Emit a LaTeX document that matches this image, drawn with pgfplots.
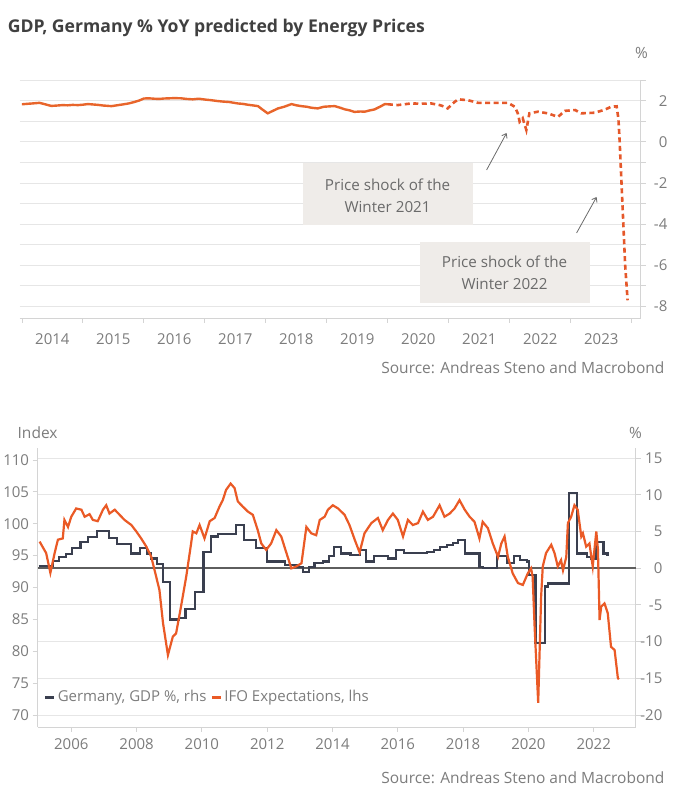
\documentclass[border=0pt]{standalone}
\usepackage{fontspec}
\setmainfont{Open Sans}
\usepackage{pgfplots}
\pgfplotsset{compat=1.18}
\usetikzlibrary{arrows.meta}
\definecolor{titlegray}{HTML}{404040}
\definecolor{labelgray}{HTML}{7C7C7C}
\definecolor{gridgray}{HTML}{E6E6E6}
\definecolor{axisgray}{HTML}{D4D4D4}
\definecolor{zerogray}{HTML}{5E5E5E}
\definecolor{orangetop}{HTML}{E8652B}
\definecolor{orangedash}{HTML}{E5582A}
\definecolor{ifoorange}{HTML}{EA5A26}
\definecolor{gdpdark}{HTML}{3A3F4F}
\definecolor{boxfill}{HTML}{EFECE9}
\definecolor{boxtext}{HTML}{6A6A6A}
\begin{document}
\begin{tikzpicture}
\begin{scope}[x=1pt,y=1pt]
\path[use as bounding box] (0,0) rectangle (684,800);
\node[anchor=west, inner sep=0, font=\fontsize{17.6}{20}\selectfont\bfseries, text=titlegray] at (3,772) {GDP, Germany \% YoY predicted by Energy Prices};
\end{scope}

% ---------------- top chart ----------------
\begin{axis}[
  at={(15pt,482pt)}, anchor=south west, width=621pt, height=238pt, scale only axis,
  xmin=2013.962, xmax=2024.143, ymin=-8.56, ymax=3,
  axis x line*=bottom, axis y line*=right,
  axis line style={draw=axisgray, line width=0.8pt},
  xtick={2014,...,2024}, x tick label as interval,
  xticklabels={2014,2015,2016,2017,2018,2019,2020,2021,2022,2023},
  ytick={-8,-6,...,2}, minor ytick={-7,-5,...,3},
  grid=both, major grid style={draw=gridgray, line width=0.8pt}, minor grid style={draw=gridgray, line width=0.8pt},
  xmajorgrids=false, xminorgrids=false,
  tick align=outside, major tick length=5pt, minor tick length=5pt,
  tick style={draw=axisgray, line width=0.8pt},
  /pgf/number format/assume math mode=true,
  /pgf/number format/1000 sep={},
  ticklabel style={font=\fontsize{15}{16}\selectfont, text=labelgray},
  xticklabel style={yshift=-7pt},
  yticklabel style={anchor=east, inner sep=0pt, xshift=22pt},
  clip=false,
]
\addplot[orangetop, line width=2.4pt] coordinates {
(2014.00,1.82)(2014.08,1.84)(2014.17,1.86)(2014.29,1.89)(2014.38,1.82)(2014.48,1.74)(2014.58,1.76)(2014.67,1.78)
(2014.75,1.77)(2014.83,1.79)(2014.92,1.78)(2015.00,1.80)(2015.08,1.83)(2015.17,1.81)(2015.25,1.79)(2015.33,1.76)
(2015.42,1.74)(2015.47,1.73)(2015.58,1.78)(2015.67,1.82)(2015.75,1.86)(2015.83,1.92)(2015.92,2.00)(2016.00,2.10)
(2016.08,2.11)(2016.17,2.09)(2016.25,2.08)(2016.33,2.10)(2016.42,2.11)(2016.50,2.12)(2016.61,2.11)(2016.70,2.08)
(2016.80,2.06)(2016.90,2.09)(2017.00,2.05)(2017.10,2.02)(2017.20,1.98)(2017.30,1.95)(2017.40,1.93)(2017.54,1.86)
(2017.62,1.84)(2017.70,1.80)(2017.80,1.76)(2017.87,1.73)(2017.95,1.55)(2018.03,1.38)(2018.10,1.48)(2018.20,1.62)
(2018.30,1.70)(2018.42,1.83)(2018.50,1.77)(2018.58,1.73)(2018.67,1.70)(2018.75,1.65)(2018.85,1.62)(2018.95,1.70)
(2019.05,1.72)(2019.13,1.73)(2019.22,1.65)(2019.30,1.57)(2019.38,1.52)(2019.45,1.45)(2019.55,1.47)(2019.62,1.46)
(2019.70,1.52)(2019.78,1.57)(2019.87,1.70)(2019.95,1.83)(2020.00,1.82)
};
\addplot[orangedash, line width=2.6pt, dash pattern=on 5pt off 3.5pt] coordinates {
(2020.00,1.82)(2020.16,1.78)(2020.38,1.86)(2020.55,1.85)(2020.71,1.86)(2020.85,1.78)(2020.93,1.70)(2020.98,1.62)
(2021.08,1.90)(2021.15,2.06)(2021.31,2.02)(2021.48,1.89)(2021.70,1.89)(2021.97,1.89)(2022.08,1.70)(2022.13,1.38)
(2022.16,0.97)(2022.21,1.14)(2022.27,0.57)(2022.32,1.38)(2022.46,1.46)(2022.62,1.38)(2022.79,1.21)(2022.90,1.50)
(2023.07,1.54)(2023.17,1.38)(2023.39,1.41)(2023.55,1.55)(2023.66,1.70)(2023.75,1.72)(2023.78,1.10)(2023.80,0.00)
(2023.83,-2.00)(2023.86,-4.00)(2023.89,-6.00)(2023.93,-7.70)
};
\end{axis}

% ---------------- bottom chart ----------------
\begin{axis}[
  at={(33pt,73pt)}, anchor=south west, width=598pt, height=279pt, scale only axis,
  xmin=2004.968, xmax=2023.283, ymin=-21.63, ymax=16.36,
  axis x line*=bottom, axis y line*=right,
  axis line style={draw=axisgray, line width=0.8pt},
  xtick={2006,2008,...,2022},
  ytick={-20,-15,...,15},
  ymajorgrids, major grid style={draw=gridgray, line width=0.8pt},
  extra y ticks={0}, extra y tick labels={},
  extra y tick style={grid=major, major grid style={draw=zerogray, line width=1.3pt}, major tick length=0pt},
  tick align=outside, major tick length=5pt,
  tick style={draw=axisgray, line width=0.8pt},
  /pgf/number format/assume math mode=true,
  /pgf/number format/1000 sep={},
  ticklabel style={font=\fontsize{15}{16}\selectfont, text=labelgray},
  xticklabel style={yshift=-3pt},
  yticklabel style={anchor=east, inner sep=0pt, xshift=22pt},
  clip=false,
]
\addplot[gdpdark, line width=2.2pt, const plot] coordinates {
(2005.00,0.3)(2005.45,1.0)(2005.62,1.5)(2005.85,1.9)(2006.02,2.7)(2006.28,3.6)(2006.50,4.2)(2006.78,5.1)
(2007.15,4.1)(2007.40,3.3)(2007.82,2.0)(2008.10,2.7)(2008.32,2.0)(2008.45,1.3)(2008.62,0.6)(2008.80,-1.9)
(2009.03,-7.0)(2009.30,-6.8)(2009.50,-5.6)(2009.80,-3.2)(2010.05,2.2)(2010.27,4.3)(2010.50,4.6)(2011.05,5.9)
(2011.28,3.8)(2011.65,2.7)(2012.00,0.9)(2012.55,0.4)(2012.90,0.2)(2013.10,-0.5)(2013.28,0.2)(2013.45,0.7)
(2013.70,0.9)(2013.90,1.6)(2014.05,2.9)(2014.25,2.0)(2014.55,1.8)(2014.85,2.5)(2015.02,0.9)(2015.28,1.6)
(2015.70,1.3)(2015.95,2.5)(2016.20,2.1)(2016.90,2.2)(2017.10,2.5)(2017.30,2.9)(2017.50,3.2)(2017.70,3.4)
(2017.85,3.8)(2018.05,2.0)(2018.50,0.2)(2018.62,0.0)(2019.05,1.6)(2019.35,0.7)(2019.55,1.6)(2019.75,1.1)
(2019.95,0.9)(2020.03,-0.9)(2020.22,-10.2)(2020.50,-2.5)(2020.60,-2.1)(2021.24,10.2)(2021.48,2.0)(2021.80,1.5)
(2021.92,1.3)(2022.08,3.6)(2022.30,2.0)(2022.42,1.8)(2022.47,1.8)
};
\end{axis}

\begin{axis}[
  at={(33pt,73pt)}, anchor=south west, width=598pt, height=279pt, scale only axis,
  xmin=2004.968, xmax=2023.283, ymin=68.12, ymax=111.88,
  axis x line=none, axis y line*=left,
  axis line style={draw=axisgray, line width=0.8pt},
  ytick={70,75,...,110},
  tick align=outside, major tick length=5pt,
  tick style={draw=axisgray, line width=0.8pt},
  /pgf/number format/assume math mode=true,
  ticklabel style={font=\fontsize{15}{16}\selectfont, text=labelgray},
  legend style={at={(axis description cs:0.005,0.1075)}, anchor=west, draw=none, fill=none,
    font=\fontsize{15}{16}\selectfont, text=labelgray, legend columns=2,
    /tikz/every even column/.append style={column sep=2pt}},
  legend image code/.code={\draw[#1, line width=3pt] (0pt,0pt) -- (9pt,0pt);},
  clip=false,
]
\addlegendimage{gdpdark}
\addlegendentry{Germany, GDP \%, rhs}
\addplot[ifoorange, line width=2.2pt] coordinates {
(2005.03,97.2)(2005.23,95.4)(2005.36,92.3)(2005.49,95.4)(2005.59,97.5)(2005.74,97.7)(2005.79,100.6)(2005.90,99.5)
(2006.00,101.1)(2006.15,102.4)(2006.31,102.2)(2006.41,101.1)(2006.56,101.5)(2006.66,100.6)(2006.81,100.4)(2006.97,102.2)
(2007.07,102.9)(2007.17,101.6)(2007.33,102.2)(2007.48,101.4)(2007.63,100.6)(2007.84,99.8)(2007.99,98.8)(2008.14,97.7)
(2008.30,96.4)(2008.45,94.8)(2008.60,91.7)(2008.70,89.6)(2008.81,84.4)(2008.96,79.4)(2009.11,82.3)(2009.21,82.8)
(2009.36,87.0)(2009.52,91.7)(2009.67,96.9)(2009.72,98.8)(2009.83,98.5)(2009.93,99.8)(2010.08,97.7)(2010.24,100.4)
(2010.39,100.9)(2010.54,102.7)(2010.64,103.7)(2010.74,105.3)(2010.88,106.3)(2011.00,105.6)(2011.10,103.5)(2011.25,102.7)
(2011.41,101.9)(2011.56,101.4)(2011.71,99.0)(2011.82,96.9)(2011.97,95.9)(2012.12,96.9)(2012.28,99.0)(2012.43,98.0)
(2012.59,95.4)(2012.74,93.0)(2012.89,93.3)(2013.05,93.8)(2013.20,99.5)(2013.35,98.5)(2013.50,98.2)(2013.61,100.6)
(2013.76,101.1)(2013.86,102.2)(2014.01,102.9)(2014.17,102.4)(2014.37,101.4)(2014.52,99.8)(2014.68,97.5)(2014.83,95.5)
(2014.98,98.5)(2015.19,100.1)(2015.39,100.9)(2015.54,99.0)(2015.70,100.6)(2015.85,101.6)(2016.00,100.6)(2016.16,98.0)
(2016.31,100.6)(2016.46,99.8)(2016.62,100.1)(2016.77,101.9)(2016.92,100.6)(2017.08,101.1)(2017.28,102.9)(2017.43,101.1)
(2017.59,101.6)(2017.74,102.4)(2017.89,103.7)(2018.05,102.2)(2018.20,101.1)(2018.35,100.3)(2018.50,97.7)(2018.60,100.3)
(2018.76,99.3)(2018.91,96.9)(2019.07,94.8)(2019.17,96.9)(2019.27,98.0)(2019.37,94.8)(2019.52,92.2)(2019.68,90.7)
(2019.83,90.4)(2019.98,92.2)(2020.08,93.0)(2020.13,91.7)(2020.19,83.9)(2020.30,71.9)(2020.39,88.6)(2020.44,93.3)
(2020.54,95.4)(2020.70,96.7)(2020.80,95.4)(2020.90,93.3)(2021.00,94.3)(2021.06,92.7)(2021.16,94.8)(2021.21,100.1)
(2021.31,101.1)(2021.41,102.9)(2021.51,102.2)(2021.62,98.0)(2021.67,98.5)(2021.77,96.4)(2021.87,96.9)(2021.97,93.3)
(2022.08,98.8)(2022.13,95.9)(2022.18,84.9)(2022.23,87.0)(2022.33,87.5)(2022.43,86.0)(2022.53,80.7)(2022.64,80.2)
(2022.74,75.8)(2022.77,75.6)
};
\addlegendentry{IFO Expectations, lhs}
\end{axis}

\begin{scope}[x=1pt,y=1pt]
\node[anchor=center, inner sep=0, font=\fontsize{15.5}{16}\selectfont, text=labelgray] at (637,747) {\%};
\fill[boxfill] (298,637) rectangle (468,575);
\node[align=center, inner sep=0, font=\fontsize{15.2}{21.5}\selectfont, text=boxtext] at (383,604) {Price shock of the\\Winter 2021};
\fill[boxfill] (415,558) rectangle (585,497);
\node[align=center, inner sep=0, font=\fontsize{15.2}{21.5}\selectfont, text=boxtext] at (500,527) {Price shock of the\\Winter 2022};
\draw[draw=boxtext, line width=0.8pt, -{Straight Barb[length=4pt,width=6pt]}] (482,630) -- (502,667);
\draw[draw=boxtext, line width=0.8pt, -{Straight Barb[length=4pt,width=6pt]}] (572,567) -- (592,603);
\node[anchor=east, inner sep=0, font=\fontsize{15.5}{16}\selectfont, text=labelgray] at (660,432) {Source: Andreas Steno and Macrobond};
\node[anchor=center, inner sep=0, font=\fontsize{15.5}{16}\selectfont, text=labelgray] at (33,367) {Index};
\node[anchor=center, inner sep=0, font=\fontsize{15.5}{16}\selectfont, text=labelgray] at (631,367) {\%};
\node[anchor=east, inner sep=0, font=\fontsize{15.5}{16}\selectfont, text=labelgray] at (660,22) {Source: Andreas Steno and Macrobond};
\end{scope}
\end{tikzpicture}
\end{document}
